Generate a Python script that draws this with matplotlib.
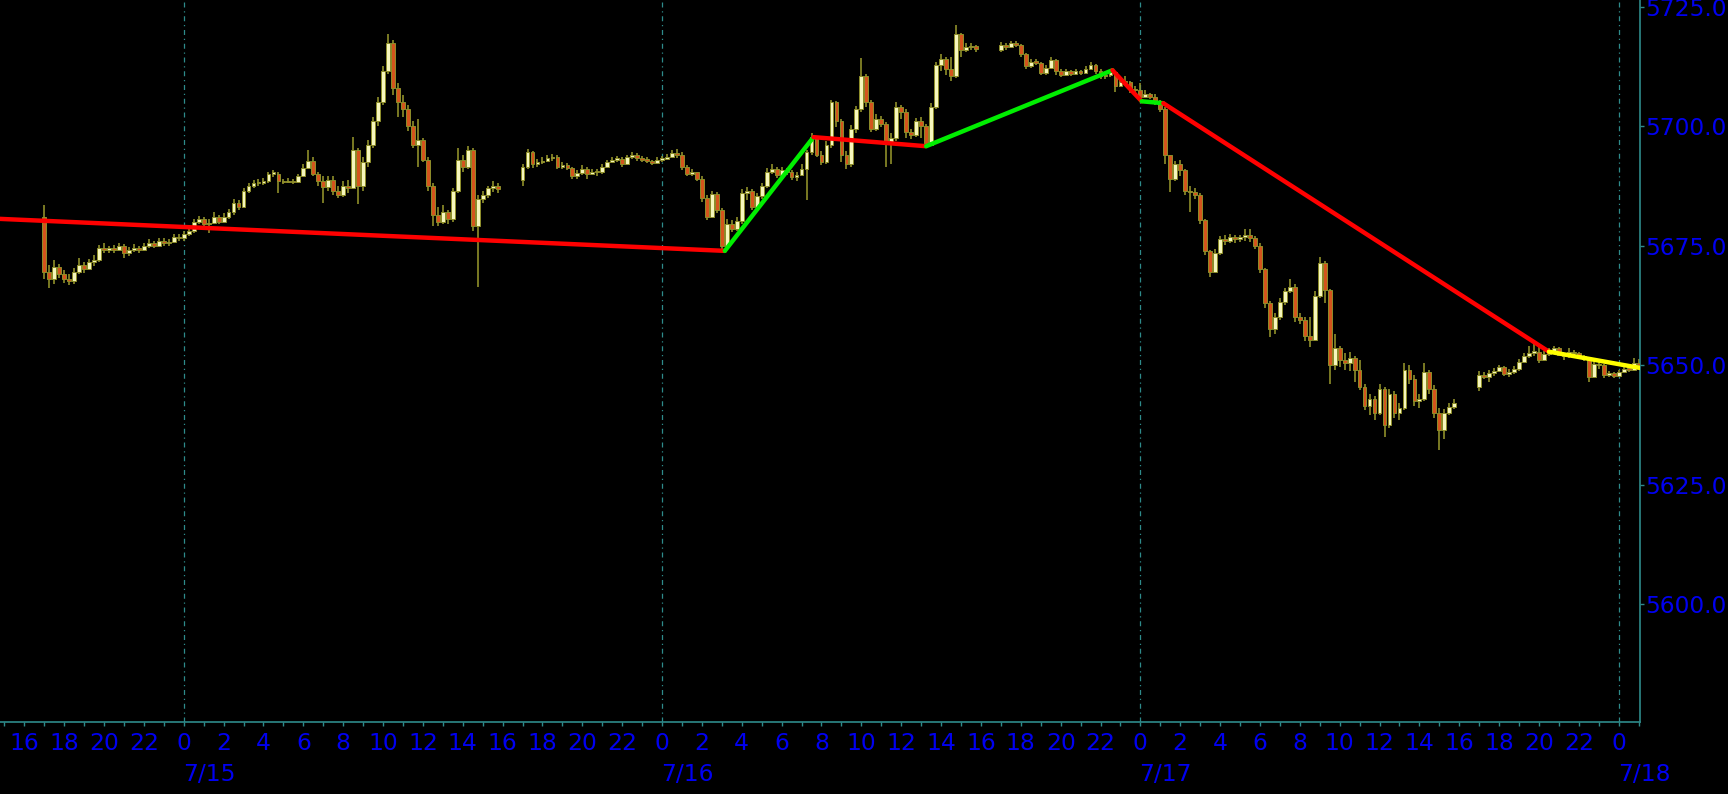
import numpy as np
import pandas as pd
import matplotlib
matplotlib.use("Agg")
import matplotlib.pyplot as plt
from matplotlib import font_manager
from matplotlib.ticker import FixedLocator, FuncFormatter, MultipleLocator

# 15 minute bars, US Central time. open of a bar = close of the bar before it
base = pd.Timestamp("2024-07-15 00:00")

# session 1 : Sun 7/14 17:00 -> Mon 7/15 16:00
s1_start = "2024-07-14 17:00"
s1_open = 5681.0
s1_close = [5669.5, 5668.0, 5670.5, 5669.0, 5668.0, 5667.5, 5669.5, 5671.0,
            5670.0, 5671.5, 5672.0, 5674.5, 5674.0, 5674.5, 5674.0, 5675.0,
            5673.5, 5674.0, 5674.5, 5674.0, 5675.0, 5675.5, 5675.0, 5676.0,
            5675.5, 5675.8, 5676.8, 5676.5,
            5677.5, 5678.0, 5680.0, 5680.5, 5679.5, 5679.8, 5681.0, 5680.0,
            5681.0, 5682.0, 5684.0, 5683.0, 5686.5, 5687.5, 5688.2, 5688.0,
            5688.5, 5690.0, 5690.0, 5688.5, 5688.3, 5688.6, 5688.3, 5689.5,
            5691.3, 5692.8, 5690.0, 5688.5, 5687.3, 5688.8, 5686.5, 5685.5,
            5687.5, 5687.0, 5695.0, 5687.5, 5692.5, 5696.0, 5701.0, 5705.0,
            5711.5, 5717.5, 5708.0, 5705.0, 5703.5, 5700.0, 5696.0, 5697.0,
            5693.0, 5687.5, 5681.5, 5680.0, 5682.0, 5680.5, 5686.5, 5693.0,
            5691.5, 5695.0, 5679.0, 5684.8, 5685.5, 5687.0, 5687.5, 5686.8]
s1_high = [5683.5, 5671.0, 5672.0, 5671.2, 5669.8, 5669.0, 5670.3, 5672.4,
           5671.5, 5672.3, 5673.0, 5675.2, 5675.5, 5675.0, 5675.2, 5675.6,
           5675.4, 5674.8, 5675.3, 5675.0, 5675.6, 5676.3, 5676.0, 5676.6,
           5676.5, 5676.3, 5677.5, 5677.4,
           5678.0, 5678.8, 5680.6, 5681.2, 5681.0, 5680.5, 5682.0, 5681.5,
           5681.8, 5682.6, 5684.8, 5684.6, 5687.0, 5688.2, 5688.8, 5689.0,
           5689.1, 5690.5, 5690.8, 5690.5, 5689.0, 5689.2, 5689.0, 5690.0,
           5692.0, 5695.0, 5693.5, 5690.5, 5689.5, 5689.5, 5689.5, 5687.5,
           5688.5, 5688.8, 5697.8, 5695.5, 5693.5, 5697.0, 5702.0, 5706.0,
           5712.5, 5719.2, 5718.0, 5709.0, 5706.5, 5704.5, 5701.0, 5701.5,
           5697.5, 5693.5, 5688.0, 5683.0, 5683.5, 5682.5, 5687.0, 5695.4,
           5694.0, 5695.8, 5695.5, 5685.5, 5686.5, 5687.5, 5688.5, 5688.0]
s1_low = [5668.0, 5666.2, 5667.0, 5668.3, 5667.2, 5666.8, 5667.0, 5669.0,
          5669.3, 5669.8, 5670.8, 5671.6, 5673.4, 5673.5, 5673.4, 5673.8,
          5672.5, 5672.8, 5673.6, 5673.5, 5673.8, 5674.6, 5674.5, 5674.8,
          5675.0, 5675.0, 5675.5, 5676.0,
          5676.0, 5677.0, 5677.6, 5679.5, 5679.0, 5677.6, 5679.5, 5679.5,
          5679.8, 5680.5, 5681.5, 5682.4, 5682.8, 5686.0, 5687.0, 5687.5,
          5687.6, 5688.0, 5689.3, 5686.0, 5687.8, 5688.0, 5687.8, 5688.0,
          5689.3, 5691.0, 5689.5, 5687.5, 5684.0, 5686.5, 5685.5, 5685.0,
          5685.2, 5686.0, 5686.8, 5683.8, 5686.5, 5691.5, 5695.5, 5700.0,
          5704.5, 5711.0, 5706.5, 5702.0, 5702.0, 5699.0, 5695.5, 5691.5,
          5692.5, 5686.5, 5679.0, 5679.0, 5679.5, 5679.5, 5680.0, 5686.0,
          5690.5, 5691.0, 5678.0, 5666.4, 5684.0, 5685.0, 5686.3, 5686.0]

# session 2 : 7/15 17:00 -> 7/16 16:00
s2_start = "2024-07-15 17:00"
s2_open = 5688.7
s2_close = [5691.5, 5694.5, 5692.0, 5692.5, 5692.8, 5693.3, 5693.5, 5691.5,
            5691.8, 5691.3, 5689.5, 5690.2, 5691.0, 5690.0, 5690.5, 5690.3,
            5691.5, 5692.5, 5693.0, 5693.2, 5692.0, 5693.5, 5694.0, 5693.3,
            5693.0, 5692.8, 5692.2, 5693.0, 5693.2, 5693.6, 5694.3, 5694.0,
            5691.5, 5690.0, 5690.3, 5689.0, 5685.0, 5681.0, 5685.8, 5682.5,
            5675.0, 5679.5, 5678.5, 5680.2, 5686.0, 5686.5, 5683.0, 5685.3,
            5687.5, 5690.5, 5691.0, 5689.8, 5690.8, 5690.5, 5689.3, 5689.8,
            5691.0, 5694.5, 5697.8, 5694.0, 5692.5, 5696.0, 5705.0, 5701.0,
            5694.0, 5692.0, 5699.5, 5703.5, 5710.5, 5705.0, 5699.5, 5701.5,
            5700.5, 5696.5, 5697.5, 5704.0, 5703.0, 5698.8, 5698.2, 5701.0,
            5700.0, 5696.0, 5704.0, 5712.8, 5714.0, 5712.0, 5710.5, 5719.3,
            5716.0, 5716.5, 5716.8, 5716.2]
s2_high = [5692.0, 5695.3, 5694.8, 5693.2, 5693.5, 5694.0, 5694.2, 5694.0,
           5692.5, 5692.2, 5691.5, 5690.8, 5691.8, 5691.5, 5691.0, 5691.0,
           5692.0, 5693.0, 5693.6, 5693.8, 5693.5, 5694.0, 5694.6, 5694.3,
           5693.8, 5693.5, 5693.0, 5693.5, 5693.8, 5694.2, 5695.0, 5695.2,
           5694.5, 5691.8, 5691.0, 5690.5, 5689.5, 5685.5, 5686.5, 5686.2,
           5682.8, 5680.5, 5680.3, 5681.0, 5686.8, 5687.2, 5686.8, 5686.0,
           5688.0, 5691.2, 5692.0, 5691.5, 5691.5, 5691.2, 5690.8, 5690.5,
           5692.0, 5695.0, 5698.5, 5698.0, 5694.8, 5696.8, 5705.4, 5705.2,
           5701.5, 5694.8, 5700.2, 5704.2, 5714.2, 5711.0, 5705.5, 5702.5,
           5702.2, 5700.8, 5698.5, 5705.0, 5704.5, 5703.5, 5699.5, 5701.8,
           5702.0, 5700.5, 5704.8, 5713.5, 5715.2, 5714.5, 5714.5, 5721.1,
           5719.5, 5717.3, 5717.4, 5717.0]
s2_low = [5687.5, 5691.0, 5691.3, 5691.5, 5692.0, 5692.5, 5692.8, 5691.0,
          5691.0, 5690.8, 5689.0, 5689.0, 5689.8, 5689.0, 5689.8, 5689.5,
          5690.0, 5691.3, 5692.2, 5692.6, 5691.5, 5691.8, 5693.2, 5692.8,
          5692.5, 5692.3, 5691.8, 5692.0, 5692.5, 5693.0, 5693.5, 5693.4,
          5690.8, 5689.5, 5689.6, 5688.5, 5684.2, 5680.3, 5680.8, 5681.8,
          5673.7, 5674.5, 5677.8, 5678.0, 5679.5, 5684.5, 5682.5, 5682.5,
          5684.8, 5687.0, 5690.0, 5689.2, 5689.5, 5689.8, 5688.8, 5688.5,
          5689.5, 5684.5, 5694.0, 5693.5, 5691.8, 5692.0, 5695.5, 5699.8,
          5692.5, 5691.0, 5691.5, 5698.5, 5703.0, 5704.0, 5698.8, 5699.0,
          5699.8, 5691.5, 5692.0, 5696.8, 5701.5, 5697.5, 5697.3, 5697.8,
          5697.5, 5695.7, 5695.8, 5703.5, 5711.5, 5710.8, 5709.5, 5710.0,
          5714.5, 5715.6, 5716.0, 5715.5]

# session 3 : 7/16 17:00 -> 7/17 16:00
s3_start = "2024-07-16 17:00"
s3_open = 5716.0
s3_close = [5717.0, 5716.5, 5717.3, 5717.0, 5715.0, 5712.5, 5713.5, 5713.3,
            5711.2, 5712.2, 5713.8, 5711.5, 5710.8, 5711.5, 5711.0, 5711.5,
            5711.2, 5712.0, 5712.8, 5711.5, 5710.5, 5710.8, 5711.3, 5708.5,
            5709.3, 5709.2, 5707.8, 5707.5, 5706.0, 5706.8, 5706.2, 5705.0,
            5703.5, 5694.0, 5689.0, 5692.0, 5690.8, 5686.5, 5686.2, 5685.5,
            5680.3, 5673.8, 5669.5, 5673.5, 5676.3, 5676.0, 5676.8, 5676.3,
            5676.7, 5677.2, 5676.5, 5675.0, 5670.0, 5663.0, 5657.5, 5660.0,
            5663.3, 5665.5, 5666.3, 5660.0, 5659.5, 5656.0, 5655.2, 5664.5,
            5671.3, 5665.7, 5650.0, 5653.5, 5651.0, 5650.5, 5651.5, 5649.0,
            5645.5, 5641.5, 5643.0, 5640.0, 5645.0, 5637.5, 5644.0, 5640.0,
            5641.0, 5649.0, 5647.0, 5642.5, 5643.0, 5648.5, 5645.0, 5640.0,
            5636.5, 5640.0, 5641.3, 5642.0]
s3_high = [5717.6, 5717.5, 5717.8, 5717.8, 5717.2, 5715.3, 5714.0, 5714.0,
           5713.5, 5712.8, 5714.5, 5714.0, 5712.0, 5712.0, 5711.8, 5712.0,
           5711.8, 5712.6, 5713.5, 5713.0, 5712.0, 5711.3, 5711.8, 5711.5,
           5710.0, 5710.5, 5709.5, 5708.3, 5709.0, 5707.5, 5707.0, 5706.8,
           5705.5, 5704.0, 5693.0, 5692.8, 5693.0, 5691.0, 5687.5, 5687.0,
           5686.0, 5680.5, 5674.0, 5674.2, 5677.0, 5677.2, 5677.5, 5677.3,
           5677.2, 5678.4, 5678.5, 5677.0, 5675.5, 5670.3, 5663.5, 5661.0,
           5664.0, 5666.2, 5668.0, 5667.0, 5661.0, 5660.0, 5660.0, 5665.5,
           5672.7, 5671.8, 5666.0, 5656.5, 5654.0, 5652.5, 5652.8, 5652.0,
           5651.0, 5646.0, 5644.0, 5643.5, 5646.0, 5645.5, 5645.0, 5644.5,
           5642.0, 5650.5, 5650.0, 5648.0, 5644.0, 5650.5, 5649.0, 5645.8,
           5641.0, 5640.8, 5642.0, 5643.0]
s3_low = [5715.5, 5716.0, 5716.3, 5716.5, 5714.5, 5712.0, 5712.2, 5712.8,
          5710.8, 5710.8, 5712.0, 5710.8, 5710.3, 5710.5, 5710.5, 5710.8,
          5710.6, 5711.0, 5712.0, 5711.0, 5709.8, 5709.8, 5710.2, 5707.2,
          5708.2, 5708.5, 5707.0, 5706.8, 5705.3, 5705.8, 5705.6, 5704.5,
          5703.0, 5692.0, 5686.3, 5688.5, 5689.5, 5685.5, 5682.0, 5684.8,
          5679.5, 5673.0, 5668.4, 5669.2, 5673.0, 5675.2, 5675.5, 5675.5,
          5675.8, 5676.0, 5675.8, 5674.3, 5669.3, 5662.0, 5655.9, 5656.5,
          5659.5, 5662.5, 5665.0, 5659.0, 5658.5, 5655.0, 5653.8, 5655.0,
          5664.0, 5663.0, 5646.0, 5649.0, 5649.5, 5649.0, 5648.8, 5646.5,
          5644.8, 5640.5, 5639.5, 5638.5, 5639.5, 5635.0, 5636.8, 5639.0,
          5638.5, 5640.5, 5646.0, 5641.5, 5641.0, 5642.5, 5644.0, 5639.0,
          5632.2, 5634.5, 5639.5, 5640.8]

# session 4 : 7/17 17:00 -> 7/18 00:xx
s4_start = "2024-07-17 17:00"
s4_open = 5645.5
s4_close = [5648.0, 5647.5, 5648.3, 5648.8, 5649.5, 5648.2, 5648.6, 5649.2,
            5650.7, 5651.8, 5652.6, 5652.8, 5651.0, 5652.4, 5653.0, 5653.5,
            5652.2, 5651.8, 5652.8, 5652.5, 5651.8, 5651.3, 5647.6, 5650.2,
            5650.0, 5648.0, 5648.3, 5647.8, 5648.5, 5649.2, 5649.0, 5650.5,
            5650.0]
s4_high = [5648.8, 5648.6, 5649.0, 5649.3, 5650.0, 5649.8, 5649.2, 5649.8,
           5651.3, 5652.5, 5654.0, 5654.8, 5653.8, 5653.0, 5653.6, 5654.0,
           5653.8, 5652.6, 5653.5, 5653.2, 5652.8, 5652.2, 5651.5, 5650.8,
           5650.8, 5650.3, 5648.8, 5648.6, 5649.0, 5649.8, 5650.0, 5651.5,
           5651.2]
s4_low = [5644.5, 5647.0, 5646.5, 5647.8, 5648.5, 5647.8, 5647.6, 5648.2,
          5648.8, 5650.5, 5651.5, 5651.8, 5650.4, 5650.8, 5651.8, 5652.6,
          5651.8, 5651.0, 5651.5, 5651.8, 5651.2, 5650.8, 5646.5, 5647.3,
          5649.2, 5647.3, 5647.4, 5647.2, 5647.5, 5648.3, 5648.6, 5648.8,
          5649.2]

# zigzag indicator vertices (first one lies left of the visible window)
zz_time = ["2024-07-14 14:45", "2024-07-16 03:09", "2024-07-16 07:36",
           "2024-07-16 13:15", "2024-07-16 22:36", "2024-07-17 00:04",
           "2024-07-17 01:09", "2024-07-17 20:30", "2024-07-18 01:12"]
zz_price = [5680.6, 5673.9, 5697.7, 5695.8, 5711.7, 5705.2, 5704.8, 5652.8, 5649.3]
zz_color = ["#ff0000", "#00ee00", "#ff0000", "#00ee00", "#ff0000",
            "#00ee00", "#ff0000", "#ffff00"]

y_ticks = [5600, 5625, 5650, 5675, 5700, 5725]
day_marks = ["2024-07-15", "2024-07-16", "2024-07-17", "2024-07-18"]

def hours(ts):
    return (pd.to_datetime(ts) - base) / pd.Timedelta(hours=1)

sessions = [(s1_start, s1_open, s1_close, s1_high, s1_low),
            (s2_start, s2_open, s2_close, s2_high, s2_low),
            (s3_start, s3_open, s3_close, s3_high, s3_low),
            (s4_start, s4_open, s4_close, s4_high, s4_low)]

t_all, o_all, c_all, h_all, l_all = [], [], [], [], []
for start, first_open, close, high, low in sessions:
    times = pd.date_range(start, periods=len(close), freq="15min")
    t_all.append(np.asarray(hours(times)))
    o_all.append(np.r_[first_open, close[:-1]])
    c_all.append(np.asarray(close))
    h_all.append(np.asarray(high))
    l_all.append(np.asarray(low))
t = np.concatenate(t_all)
o = np.concatenate(o_all)
c = np.concatenate(c_all)
h = np.concatenate(h_all)
l = np.concatenate(l_all)

# fonts - a narrow face is closest to the terminal font
names = {f.name for f in font_manager.fontManager.ttflist}
font = "DejaVu Sans"
for cand in ["Liberation Sans Narrow", "DejaVu Sans Condensed"]:
    if cand in names:
        font = cand
        break
plt.rcParams["font.family"] = [font, "DejaVu Sans"]

teal = "#2e8b8b"
blue = "#0000f0"
wick = "#8e8e2a"
bull = "#f6f6bc"
bear = "#d4541c"

fig = plt.figure(figsize=(17.28, 7.94), dpi=100, facecolor="black")
ax = fig.add_axes([0, 72 / 794, 1640 / 1728, 1 - 72 / 794])
ax.set_facecolor("black")

# size the labels so a price label fits in the 84 px right margin
renderer = fig.canvas.get_renderer()
probe = fig.text(0, 0, "5650.0", fontsize=20)
w = probe.get_window_extent(renderer).width
probe.remove()
fsize = min(22.5, 20 * 82.0 / w)

# day separators
for d in day_marks:
    ax.axvline(hours(d), color=teal, lw=0.9, dashes=(4, 3, 1, 3), zorder=1)

# candles
ax.vlines(t, l, h, color=wick, lw=1.2, zorder=2)
up = c >= o
body_lo = np.minimum(o, c)
body_h = np.maximum(np.abs(c - o), 0.3)
ax.bar(t[up], body_h[up], width=0.19, bottom=body_lo[up], color=bull,
       edgecolor=wick, linewidth=0.7, zorder=3)
ax.bar(t[~up], body_h[~up], width=0.19, bottom=body_lo[~up], color=bear,
       edgecolor=wick, linewidth=0.7, zorder=3)

# zigzag
zx = np.asarray(hours(zz_time))
for i, col in enumerate(zz_color):
    ax.plot(zx[i:i + 2], zz_price[i:i + 2], color=col, lw=3.2,
            solid_capstyle="round", zorder=4)

ax.set_xlim(-9.22, 73.07)
ax.set_ylim(5575.3, 5726.4)

for s in ["top", "left"]:
    ax.spines[s].set_visible(False)
for s in ["right", "bottom"]:
    ax.spines[s].set_color(teal)
    ax.spines[s].set_linewidth(1.2)

ax.yaxis.tick_right()
ax.yaxis.set_major_locator(FixedLocator(y_ticks))
ax.yaxis.set_major_formatter(FuncFormatter(lambda v, p: f"{v:.1f}"))
ax.tick_params(axis="y", colors=teal, labelcolor=blue, length=3, width=1,
               pad=1, labelsize=fsize)

ax.xaxis.set_major_locator(MultipleLocator(2))
ax.xaxis.set_minor_locator(MultipleLocator(1))
ax.xaxis.set_major_formatter(FuncFormatter(lambda v, p: f"{int(round(v)) % 24}"))
ax.tick_params(axis="x", which="both", colors=teal, labelcolor=blue,
               length=3, width=1, pad=4, labelsize=fsize)

for d in day_marks:
    ts = pd.Timestamp(d)
    ax.annotate(f"{ts.month}/{ts.day}", xy=(hours(d), 0),
                xycoords=("data", "axes fraction"), xytext=(-1, -41),
                textcoords="offset pixels", ha="left", va="top",
                color=blue, fontsize=fsize, annotation_clip=False)

fig.savefig("out.png", dpi=100, facecolor="black")
